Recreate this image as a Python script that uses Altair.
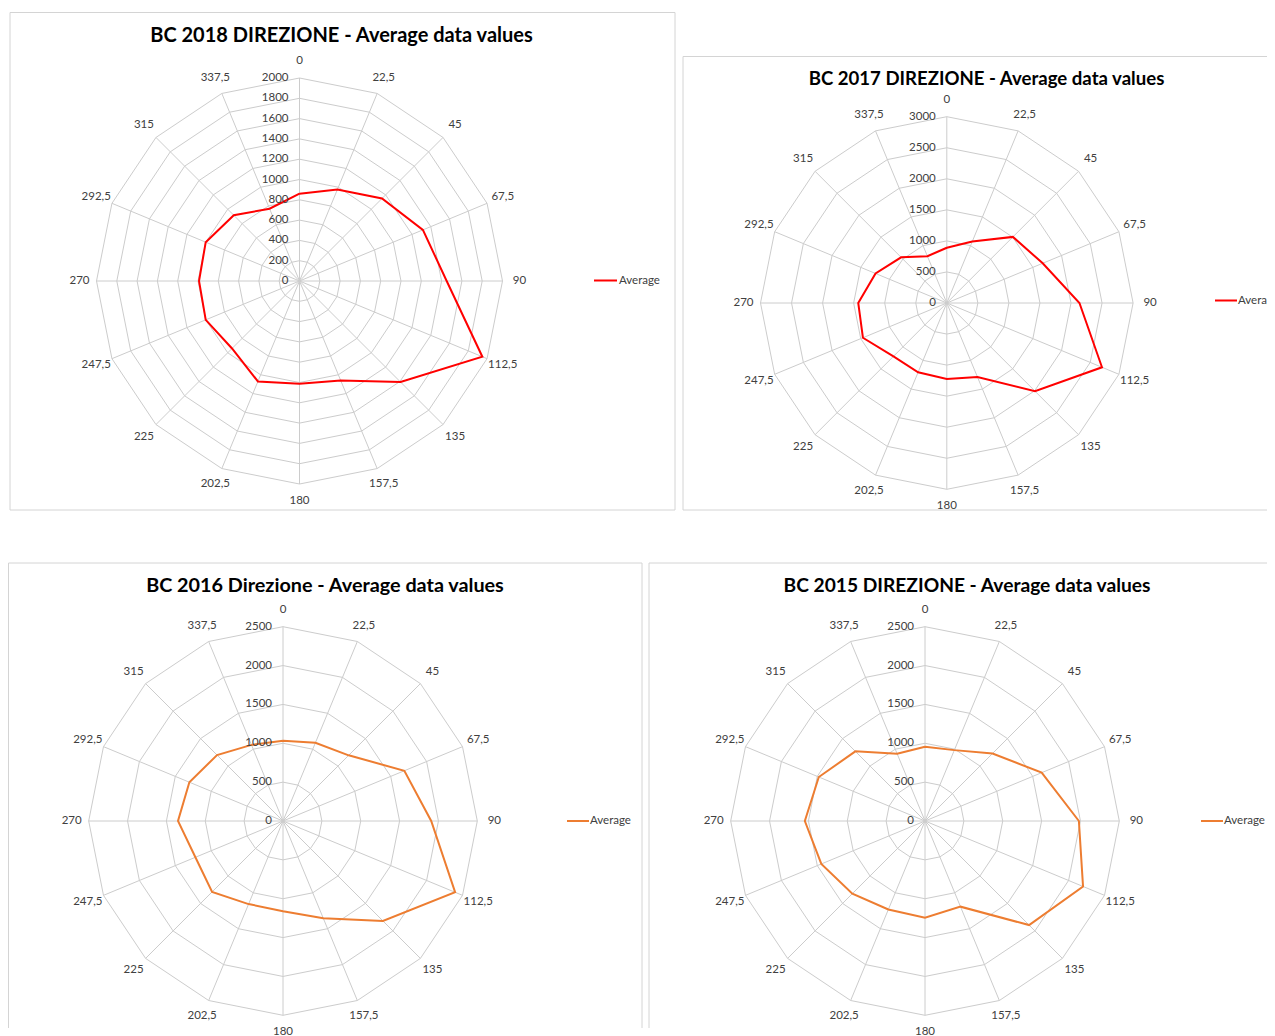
import altair as alt
import pandas as pd

# ---------------- data ----------------
DIR_DEG = [0, 22.5, 45, 67.5, 90, 112.5, 135, 157.5, 180, 202.5, 225, 247.5, 270, 292.5, 315, 337.5]
DIR_LABELS = ["0", "22,5", "45", "67,5", "90", "112,5", "135", "157,5", "180",
              "202,5", "225", "247,5", "270", "292,5", "315", "337,5"]

AVG_2018 = [860, 975, 1150, 1316, 1450, 1950, 1408, 1060, 1012, 1071, 940, 1000, 990, 1000, 916, 771]
AVG_2017 = [890, 1070, 1505, 1672, 2136, 2705, 2008, 1289, 1224, 1207, 1215, 1462, 1426, 1242, 1040, 815]
AVG_2016 = [1034, 1090, 1195, 1690, 1907, 2397, 1818, 1355, 1160, 1157, 1290, 1220, 1351, 1304, 1200, 1060]
AVG_2015 = [956, 987, 1229, 1625, 1980, 2201, 1894, 1193, 1244, 1232, 1322, 1444, 1546, 1479, 1267, 937]

TICKS_2018 = [0, 200, 400, 600, 800, 1000, 1200, 1400, 1600, 1800, 2000]
TICKS_2017 = [0, 500, 1000, 1500, 2000, 2500, 3000]
TICKS_2016 = [0, 500, 1000, 1500, 2000, 2500]
TICKS_2015 = [0, 500, 1000, 1500, 2000, 2500]

TITLES = ["BC 2018 DIREZIONE - Average data values",
          "BC 2017 DIREZIONE -  Average data values",
          "BC 2016 Direzione - Average data values",
          "BC 2015 DIREZIONE - Average data values"]
SERIES = "Average"

RED = "#FF0000"
ORANGE = "#ED7D31"
GRID = "#CCCCCC"
FRAME = "#D4D4D4"
LABEL = "#404040"
FONT = "Lato"


def panel(title, values, ticks, color, W, H, cx, cy, R, frame, title_xy, title_size, legend):
    vmax = ticks[-1]
    xs = alt.Scale(domain=[-cx / R, (W - cx) / R], nice=False, zero=False)
    ys = alt.Scale(domain=[-(H - cy) / R, cy / R], nice=False, zero=False)

    def X(f):
        return alt.X(f, type="quantitative", scale=xs, axis=None)

    def Y(f):
        return alt.Y(f, type="quantitative", scale=ys, axis=None)

    n = len(DIR_DEG)
    poly = pd.DataFrame({
        "ord": list(range(n + 1)),
        "deg": [DIR_DEG[i % n] for i in range(n + 1)],
        "value": [values[i % n] for i in range(n + 1)],
    })
    ring_rows = []
    for t in ticks[1:]:
        for i in range(n + 1):
            ring_rows.append({"ring": t, "ord": i, "deg": DIR_DEG[i % n]})
    rings = pd.DataFrame(ring_rows)
    spokes = pd.DataFrame({"deg": DIR_DEG, "label": DIR_LABELS})
    tickdf = pd.DataFrame({"tick": ticks})

    rad = "datum.deg * PI / 180"
    off = 17.0 / R

    ring_layer = alt.Chart(rings).transform_calculate(
        x=f"datum.ring / {vmax} * sin({rad})",
        y=f"datum.ring / {vmax} * cos({rad})",
    ).mark_line(color=GRID, strokeWidth=1).encode(
        x=X("x"), y=Y("y"), order="ord:Q", detail="ring:N")

    spoke_layer = alt.Chart(spokes).transform_calculate(
        x0="0", y0="0",
        x1=f"sin({rad})", y1=f"cos({rad})",
    ).mark_rule(color=GRID, strokeWidth=1).encode(
        x=X("x0"), y=Y("y0"), x2="x1:Q", y2="y1:Q")

    cat_layer = alt.Chart(spokes).transform_calculate(
        x=f"{1 + off} * sin({rad})",
        y=f"{1 + off} * cos({rad})",
    ).mark_text(font=FONT, fontSize=11.5, color=LABEL, align="center", baseline="middle").encode(
        x=X("x"), y=Y("y"), text="label:N")

    tick_labels = alt.Chart(tickdf).transform_calculate(
        x="0", y=f"datum.tick / {vmax}",
    ).mark_text(font=FONT, fontSize=11.5, color=LABEL, align="right", baseline="middle", dx=-11).encode(
        x=X("x"), y=Y("y"), text="tick:Q")

    data_layer = alt.Chart(poly).transform_calculate(
        x=f"datum.value / {vmax} * sin({rad})",
        y=f"datum.value / {vmax} * cos({rad})",
    ).mark_line(color=color, strokeWidth=2, strokeJoin="miter").encode(
        x=X("x"), y=Y("y"), order="ord:Q")

    one = pd.DataFrame({"t": [title]})
    title_layer = alt.Chart(one).mark_text(
        font=FONT, fontSize=title_size, fontWeight="bold", color="#000000", align="center", baseline="middle"
    ).encode(x=alt.value(title_xy[0]), y=alt.value(title_xy[1]), text="t:N")

    l, t, r, b = frame
    frame_layer = alt.Chart(one).mark_rect(
        fill="transparent", stroke=FRAME, strokeWidth=1, clip=True
    ).encode(x=alt.value(l), x2=alt.value(r), y=alt.value(t), y2=alt.value(b))

    lx0, lx1, ly, ltx = legend
    leg = pd.DataFrame({"s": [SERIES]})
    legend_line = alt.Chart(leg).mark_rule(color=color, strokeWidth=2).encode(
        x=alt.value(lx0), x2=alt.value(lx1), y=alt.value(ly))
    legend_text = alt.Chart(leg).mark_text(
        font=FONT, fontSize=11.5, color=LABEL, align="left", baseline="middle", clip=True
    ).encode(x=alt.value(ltx), y=alt.value(ly), text="s:N")

    return alt.layer(
        frame_layer, ring_layer, spoke_layer, data_layer,
        tick_labels, cat_layer, title_layer, legend_line, legend_text
    ).properties(width=W, height=H, view=alt.ViewBackground(stroke=None, strokeWidth=0))


p1 = panel(TITLES[0], AVG_2018, TICKS_2018, RED, 671, 547, 291.5, 272.0, 203.0,
           (2, 3.5, 667, 501), (333.5, 27), 20, (586, 609, 271.5, 611))
p2 = panel(TITLES[1], AVG_2017, TICKS_2017, RED, 588, 547, 267.8, 294.0, 186.3,
           (4, 47.5, 620, 501), (307.5, 69.5), 18.6, (536, 558, 291.5, 559))
p3 = panel(TITLES[2], AVG_2016, TICKS_2016, ORANGE, 637, 472, 275.0, 265.0, 194.3,
           (0.5, 7, 634, 490), (317, 30), 19.8, (559, 581, 265, 582))
p4 = panel(TITLES[3], AVG_2015, TICKS_2015, ORANGE, 622, 472, 280.0, 265.0, 194.3,
           (4, 7, 640, 490), (322, 30), 19.2, (556, 578, 265, 579))

chart = alt.vconcat(
    alt.hconcat(p1, p2, spacing=0, bounds="flush"),
    alt.hconcat(p3, p4, spacing=0, bounds="flush"),
    spacing=0,
).properties(padding={"top": 1, "left": 0, "right": 0, "bottom": 0}).configure_view(
    stroke=None, strokeWidth=0).configure(background="white")

chart.save("out.html", embed_options={"renderer": "svg", "actions": False})
